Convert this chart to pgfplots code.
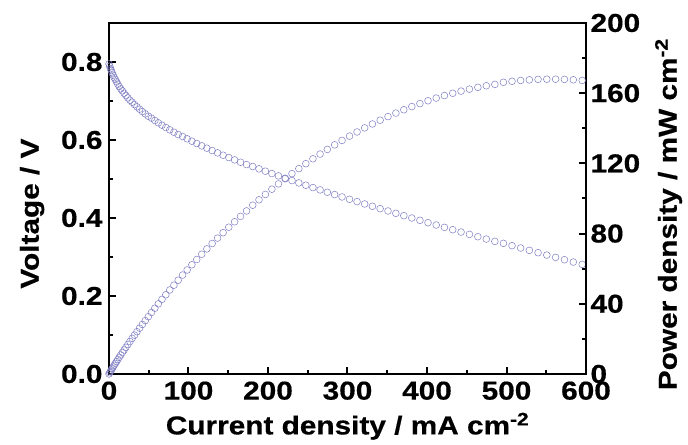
\documentclass[border=0pt]{standalone}
\usepackage{fontspec}
\setmainfont{Liberation Sans}[FakeStretch=1.15, BoldFeatures={FakeBold=0.5}]
\usepackage{pgfplots}
\usepackage{pgfplotstable}
\pgfplotsset{compat=1.18}

\definecolor{markc}{RGB}{125,125,195}

% current density (mA cm-2), voltage (V), power density (mW cm-2)
\pgfplotstableread{
I V P
0.00 0.795 0.00
0.89 0.789 0.70
1.86 0.783 1.46
2.90 0.778 2.26
4.03 0.772 3.11
5.25 0.766 4.02
6.57 0.760 4.99
7.98 0.755 6.02
9.51 0.749 7.12
11.15 0.743 8.28
12.91 0.737 9.51
14.80 0.731 10.82
16.82 0.726 12.21
18.98 0.720 13.67
21.28 0.714 15.19
23.74 0.708 16.81
26.35 0.702 18.50
29.12 0.697 20.30
32.06 0.691 22.15
35.18 0.685 24.10
38.47 0.679 26.12
41.93 0.673 28.22
45.59 0.667 30.41
49.42 0.661 32.67
53.45 0.656 35.06
57.67 0.650 37.49
62.07 0.644 39.97
66.67 0.638 42.54
71.47 0.632 45.17
76.45 0.626 47.86
81.63 0.620 50.61
87.00 0.614 53.42
92.56 0.609 56.37
98.30 0.603 59.27
104.23 0.597 62.23
110.35 0.591 65.22
116.64 0.585 68.23
123.11 0.579 71.28
129.75 0.573 74.35
136.56 0.567 77.43
143.54 0.561 80.53
150.68 0.555 83.63
157.98 0.549 86.73
165.43 0.543 89.83
173.04 0.537 92.92
180.79 0.532 96.18
188.68 0.526 99.25
196.71 0.520 102.29
204.88 0.514 105.31
213.18 0.508 108.30
221.60 0.502 111.24
230.15 0.496 114.15
238.82 0.490 117.02
247.60 0.484 119.84
256.50 0.478 122.61
265.50 0.472 125.32
274.61 0.466 127.97
283.82 0.460 130.56
293.13 0.454 133.08
302.54 0.448 135.54
312.04 0.442 137.92
321.63 0.436 140.23
331.31 0.430 142.46
341.07 0.424 144.61
350.92 0.418 146.68
360.84 0.412 148.67
370.84 0.406 150.56
380.92 0.400 152.37
391.07 0.394 154.08
401.29 0.388 155.70
411.58 0.382 157.22
421.94 0.376 158.65
432.36 0.370 159.97
442.84 0.364 161.19
453.38 0.358 162.31
463.98 0.352 163.32
474.64 0.346 164.23
485.35 0.340 165.02
496.12 0.335 166.20
506.94 0.329 166.78
517.81 0.323 167.25
528.73 0.317 167.61
539.70 0.311 167.85
550.72 0.305 167.97
561.78 0.299 167.97
572.89 0.293 167.86
584.04 0.287 167.62
595.23 0.281 167.26
}\pol

\pgfplotsset{
  common/.style={
    width=477bp, height=351bp, scale only axis,
    xmin=0, xmax=600,
    tick align=inside,
    axis line style={line width=2.2bp},
    every tick/.style={line width=2bp, black},
    major tick length=7bp, minor tick length=4bp,
    tick label style={font=\fontsize{26}{26}\selectfont\bfseries},
    label style={font=\fontsize{26}{26}\selectfont\bfseries},
    /pgf/number format/assume math mode=true,
  },
  marks/.style={only marks, mark=o, mark size=3.4bp,
    mark options={draw=markc, line width=0.5bp}},
}

\begin{document}
\begin{tikzpicture}
\begin{axis}[common,
    ymin=0, ymax=0.9,
    xtick={0,100,200,300,400,500,600}, minor x tick num=1,
    ytick={0,0.2,0.4,0.6,0.8}, minor y tick num=1,
    xtick pos=left, ytick pos=left,
    yticklabel style={xshift=-3bp, /pgf/number format/.cd, fixed, fixed zerofill, precision=1},
    xticklabel style={yshift=-4bp},
    xlabel={Current density / mA cm\textsuperscript{-2}},
    xlabel style={yshift=-6bp},
    ylabel={Voltage / V},
    ylabel style={at={(ticklabel cs:0.457)}, yshift=10bp},
]
\addplot[marks] table[x=I, y=V] {\pol};
\coordinate (sw) at (rel axis cs:0,0);
\coordinate (ne) at (rel axis cs:1,1);
\end{axis}
\begin{axis}[common,
    ymin=0, ymax=200,
    axis y line*=right, axis x line=none,
    ytick={0,40,80,120,160,200}, minor y tick num=1,
    yticklabel style={xshift=1bp},
    ylabel={Power density / mW cm\textsuperscript{-2}},
    ylabel style={at={(ticklabel cs:0.455)}, yshift=-8bp},
]
\addplot[marks] table[x=I, y=P] {\pol};
\end{axis}
\pgfresetboundingbox
\path[use as bounding box] ([shift={(-109bp,-71bp)}]sw) rectangle ([shift={(102bp,23bp)}]ne);
\end{tikzpicture}
\end{document}
